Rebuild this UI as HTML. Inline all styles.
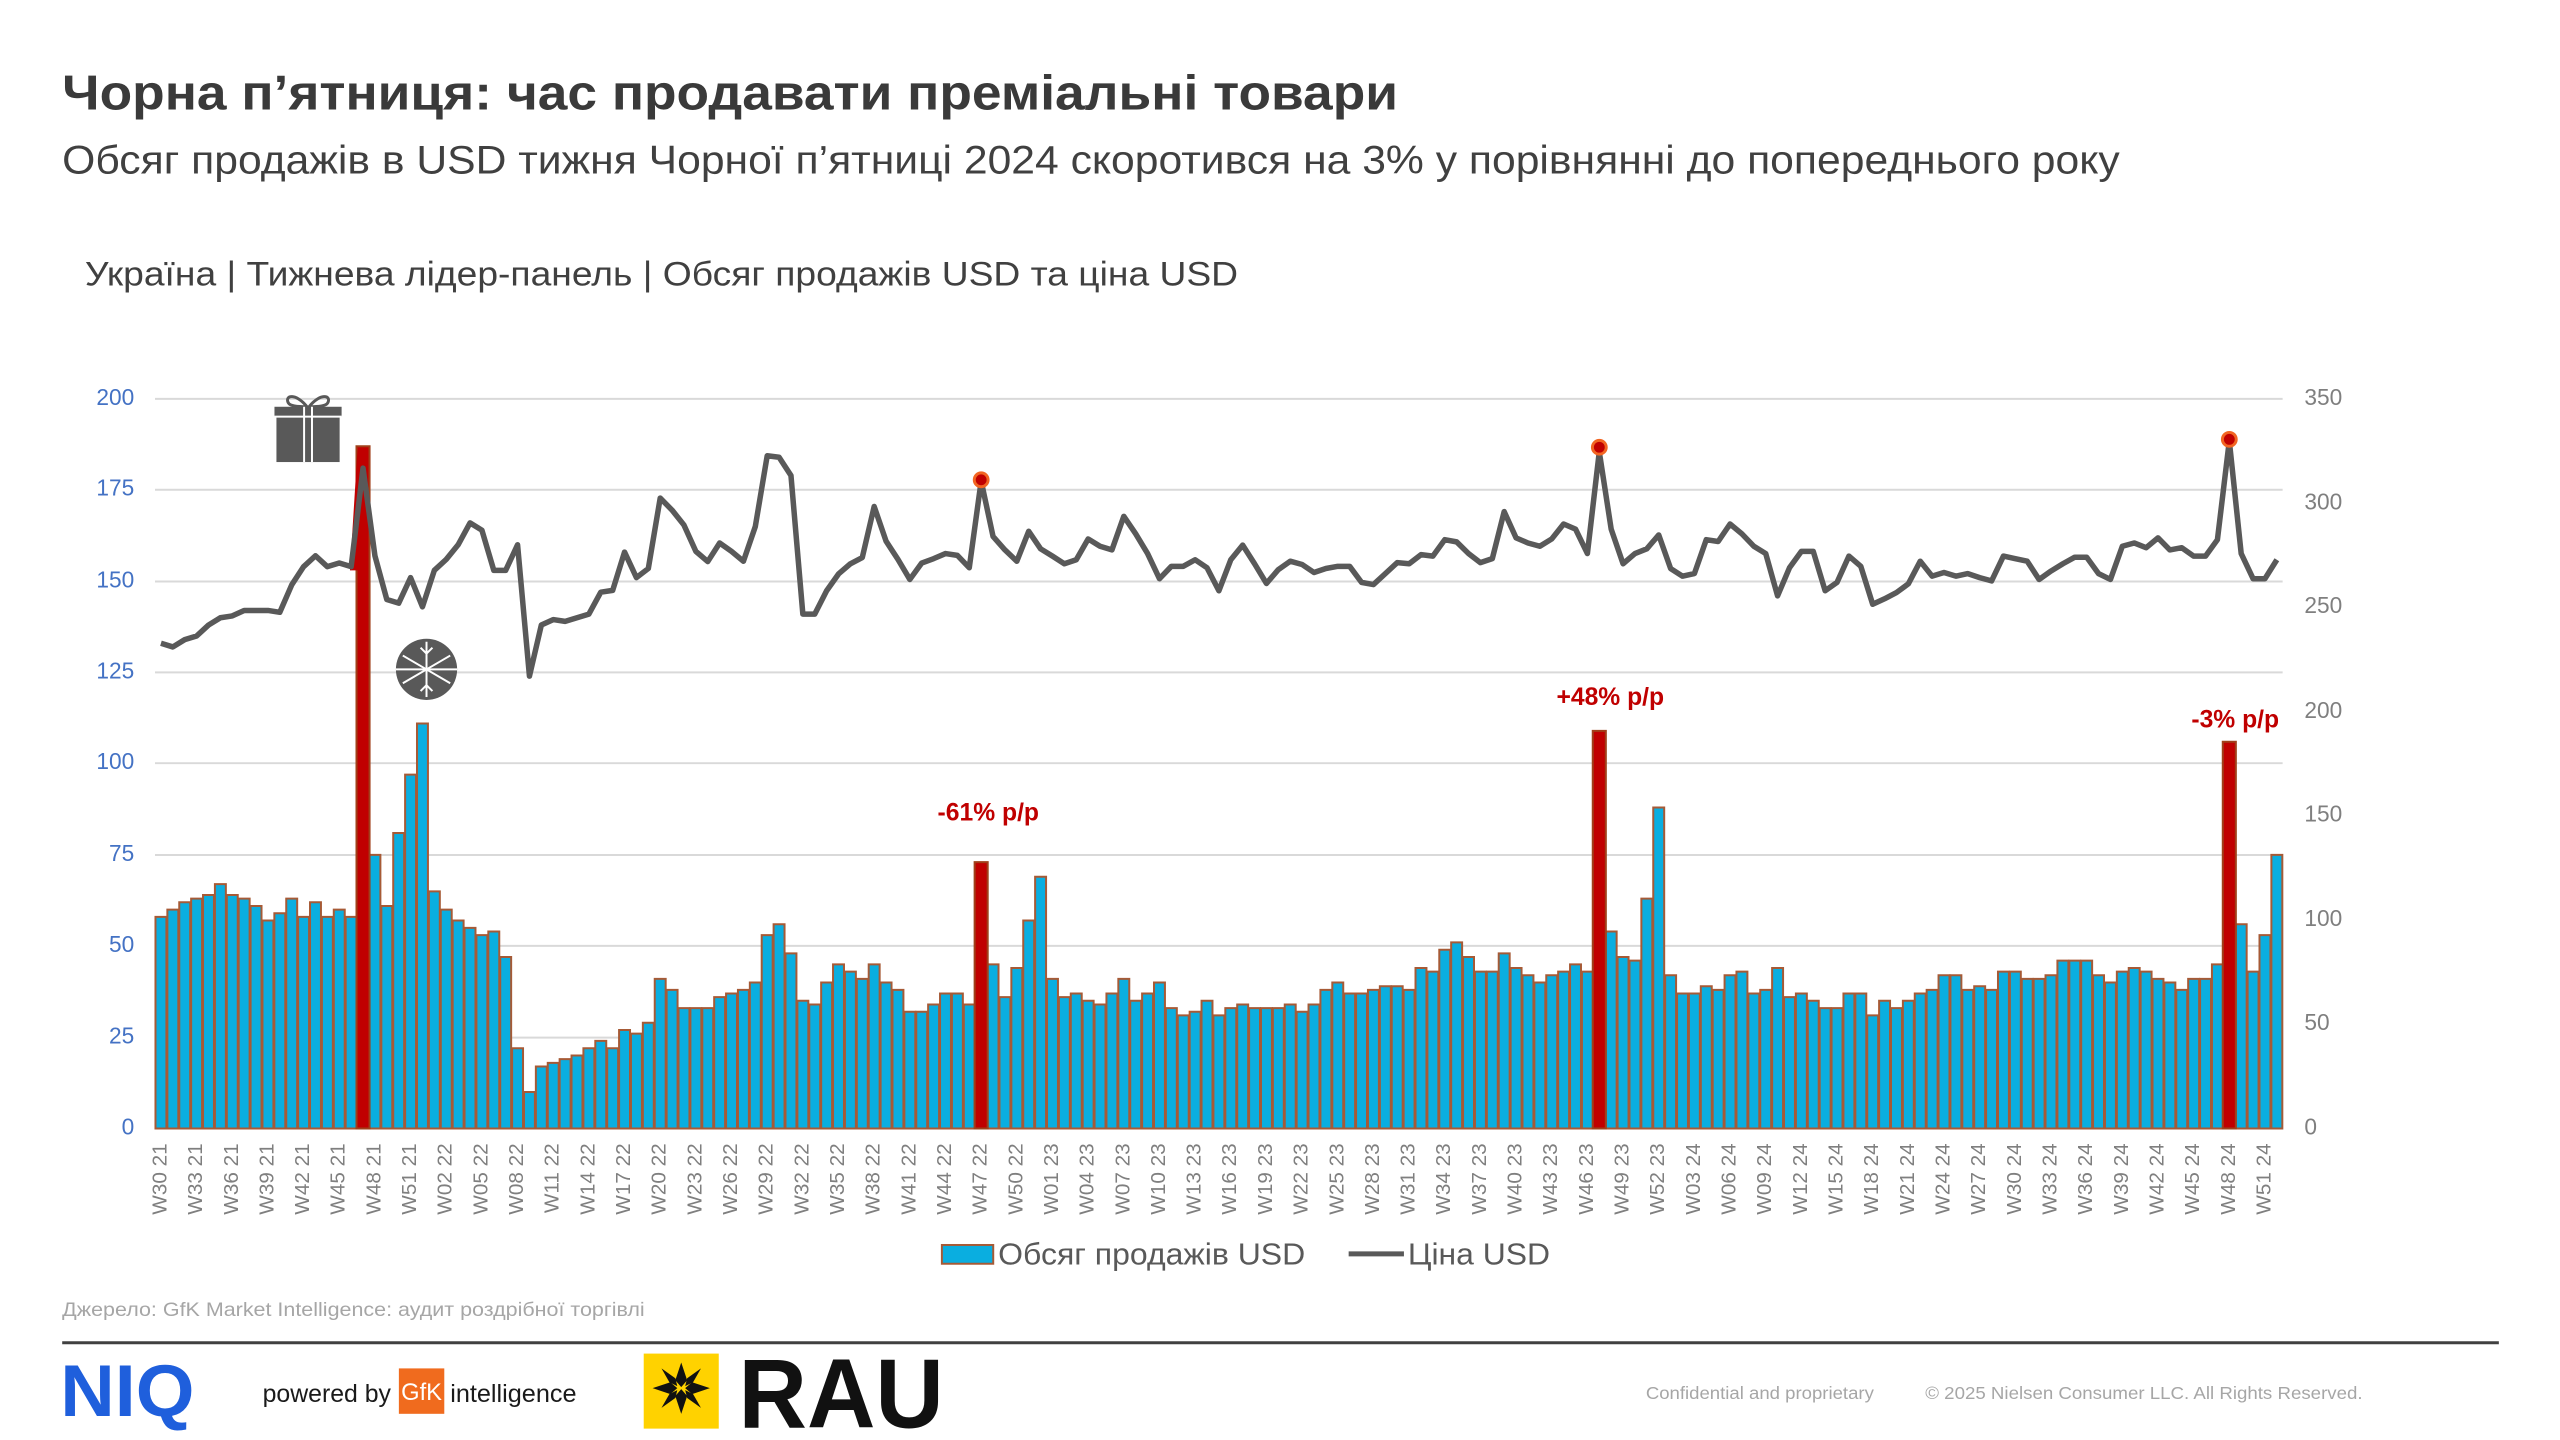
<!DOCTYPE html>
<html><head><meta charset="utf-8"><style>html,body{margin:0;padding:0;background:#fff}svg{display:block}</style></head>
<body>
<svg width="2560" height="1440" viewBox="0 0 2560 1440" xmlns="http://www.w3.org/2000/svg" font-family="'Liberation Sans', Arial, sans-serif">
<rect width="2560" height="1440" fill="#fff"/>
<g transform="scale(0.9873)">
<text x="63" y="111" font-size="50" font-weight="bold" fill="#3a3a3a" textLength="1353" lengthAdjust="spacingAndGlyphs">Чорна п’ятниця: час продавати преміальні товари</text>
<text x="63" y="176" font-size="40" fill="#404040" textLength="2084" lengthAdjust="spacingAndGlyphs">Обсяг продажів в USD тижня Чорної п’ятниці 2024 скоротився на 3% у порівнянні до попереднього року</text>
<text x="86" y="289" font-size="35" fill="#404040" textLength="1168" lengthAdjust="spacingAndGlyphs">Україна | Тижнева лідер-панель | Обсяг продажів USD та ціна USD</text>

<g stroke="#d9d9d9" stroke-width="2">
<line x1="157" x2="2312" y1="404" y2="404"/><line x1="157" x2="2312" y1="496" y2="496"/><line x1="157" x2="2312" y1="589" y2="589"/><line x1="157" x2="2312" y1="681" y2="681"/><line x1="157" x2="2312" y1="773" y2="773"/><line x1="157" x2="2312" y1="866" y2="866"/><line x1="157" x2="2312" y1="958" y2="958"/><line x1="157" x2="2312" y1="1051" y2="1051"/><line x1="157" x2="2312" y1="1143" y2="1143"/>
</g>
<g font-size="23" fill="#4472c4" text-anchor="end" dominant-baseline="middle">
<text x="136" y="404">200</text><text x="136" y="496">175</text><text x="136" y="589">150</text><text x="136" y="681">125</text><text x="136" y="773">100</text><text x="136" y="866">75</text><text x="136" y="958">50</text><text x="136" y="1051">25</text><text x="136" y="1143">0</text>
</g>
<g font-size="23" fill="#7f7f7f" dominant-baseline="middle">
<text x="2334" y="404">350</text><text x="2334" y="510">300</text><text x="2334" y="615">250</text><text x="2334" y="721">200</text><text x="2334" y="826">150</text><text x="2334" y="932">100</text><text x="2334" y="1037">50</text><text x="2334" y="1143">0</text>
</g>

<g transform="translate(157,1143) scale(12.04,-3.695)" fill="#0aaee0" stroke="#a65a36" stroke-width="2">
<g>
<rect vector-effect="non-scaling-stroke" x="0.04" width="0.92" height="58"/><rect vector-effect="non-scaling-stroke" x="1.04" width="0.92" height="60"/><rect vector-effect="non-scaling-stroke" x="2.04" width="0.92" height="62"/><rect vector-effect="non-scaling-stroke" x="3.04" width="0.92" height="63"/><rect vector-effect="non-scaling-stroke" x="4.04" width="0.92" height="64"/><rect vector-effect="non-scaling-stroke" x="5.04" width="0.92" height="67"/><rect vector-effect="non-scaling-stroke" x="6.04" width="0.92" height="64"/><rect vector-effect="non-scaling-stroke" x="7.04" width="0.92" height="63"/><rect vector-effect="non-scaling-stroke" x="8.04" width="0.92" height="61"/><rect vector-effect="non-scaling-stroke" x="9.04" width="0.92" height="57"/>
<rect vector-effect="non-scaling-stroke" x="10.04" width="0.92" height="59"/><rect vector-effect="non-scaling-stroke" x="11.04" width="0.92" height="63"/><rect vector-effect="non-scaling-stroke" x="12.04" width="0.92" height="58"/><rect vector-effect="non-scaling-stroke" x="13.04" width="0.92" height="62"/><rect vector-effect="non-scaling-stroke" x="14.04" width="0.92" height="58"/><rect vector-effect="non-scaling-stroke" x="15.04" width="0.92" height="60"/><rect vector-effect="non-scaling-stroke" x="16.04" width="0.92" height="58"/><rect vector-effect="non-scaling-stroke" x="18.04" width="0.92" height="75"/><rect vector-effect="non-scaling-stroke" x="19.04" width="0.92" height="61"/>
<rect vector-effect="non-scaling-stroke" x="20.04" width="0.92" height="81"/><rect vector-effect="non-scaling-stroke" x="21.04" width="0.92" height="97"/><rect vector-effect="non-scaling-stroke" x="22.04" width="0.92" height="111"/>
<rect vector-effect="non-scaling-stroke" x="23.04" width="0.92" height="65"/><rect vector-effect="non-scaling-stroke" x="24.04" width="0.92" height="60"/><rect vector-effect="non-scaling-stroke" x="25.04" width="0.92" height="57"/><rect vector-effect="non-scaling-stroke" x="26.04" width="0.92" height="55"/><rect vector-effect="non-scaling-stroke" x="27.04" width="0.92" height="53"/><rect vector-effect="non-scaling-stroke" x="28.04" width="0.92" height="54"/><rect vector-effect="non-scaling-stroke" x="29.04" width="0.92" height="47"/><rect vector-effect="non-scaling-stroke" x="30.04" width="0.92" height="22"/><rect vector-effect="non-scaling-stroke" x="31.04" width="0.92" height="10"/><rect vector-effect="non-scaling-stroke" x="32.04" width="0.92" height="17"/>
<rect vector-effect="non-scaling-stroke" x="33.04" width="0.92" height="18"/><rect vector-effect="non-scaling-stroke" x="34.04" width="0.92" height="19"/><rect vector-effect="non-scaling-stroke" x="35.04" width="0.92" height="20"/><rect vector-effect="non-scaling-stroke" x="36.04" width="0.92" height="22"/><rect vector-effect="non-scaling-stroke" x="37.04" width="0.92" height="24"/><rect vector-effect="non-scaling-stroke" x="38.04" width="0.92" height="22"/><rect vector-effect="non-scaling-stroke" x="39.04" width="0.92" height="27"/><rect vector-effect="non-scaling-stroke" x="40.04" width="0.92" height="26"/><rect vector-effect="non-scaling-stroke" x="41.04" width="0.92" height="29"/><rect vector-effect="non-scaling-stroke" x="42.04" width="0.92" height="41"/>
<rect vector-effect="non-scaling-stroke" x="43.04" width="0.92" height="38"/><rect vector-effect="non-scaling-stroke" x="44.04" width="0.92" height="33"/><rect vector-effect="non-scaling-stroke" x="45.04" width="0.92" height="33"/><rect vector-effect="non-scaling-stroke" x="46.04" width="0.92" height="33"/><rect vector-effect="non-scaling-stroke" x="47.04" width="0.92" height="36"/><rect vector-effect="non-scaling-stroke" x="48.04" width="0.92" height="37"/><rect vector-effect="non-scaling-stroke" x="49.04" width="0.92" height="38"/><rect vector-effect="non-scaling-stroke" x="50.04" width="0.92" height="40"/><rect vector-effect="non-scaling-stroke" x="51.04" width="0.92" height="53"/><rect vector-effect="non-scaling-stroke" x="52.04" width="0.92" height="56"/>
<rect vector-effect="non-scaling-stroke" x="53.04" width="0.92" height="48"/><rect vector-effect="non-scaling-stroke" x="54.04" width="0.92" height="35"/><rect vector-effect="non-scaling-stroke" x="55.04" width="0.92" height="34"/><rect vector-effect="non-scaling-stroke" x="56.04" width="0.92" height="40"/><rect vector-effect="non-scaling-stroke" x="57.04" width="0.92" height="45"/><rect vector-effect="non-scaling-stroke" x="58.04" width="0.92" height="43"/><rect vector-effect="non-scaling-stroke" x="59.04" width="0.92" height="41"/><rect vector-effect="non-scaling-stroke" x="60.04" width="0.92" height="45"/><rect vector-effect="non-scaling-stroke" x="61.04" width="0.92" height="40"/><rect vector-effect="non-scaling-stroke" x="62.04" width="0.92" height="38"/>
<rect vector-effect="non-scaling-stroke" x="63.04" width="0.92" height="32"/><rect vector-effect="non-scaling-stroke" x="64.04" width="0.92" height="32"/><rect vector-effect="non-scaling-stroke" x="65.04" width="0.92" height="34"/><rect vector-effect="non-scaling-stroke" x="66.04" width="0.92" height="37"/><rect vector-effect="non-scaling-stroke" x="67.04" width="0.92" height="37"/><rect vector-effect="non-scaling-stroke" x="68.04" width="0.92" height="34"/><rect vector-effect="non-scaling-stroke" x="70.04" width="0.92" height="45"/><rect vector-effect="non-scaling-stroke" x="71.04" width="0.92" height="36"/><rect vector-effect="non-scaling-stroke" x="72.04" width="0.92" height="44"/><rect vector-effect="non-scaling-stroke" x="73.04" width="0.92" height="57"/><rect vector-effect="non-scaling-stroke" x="74.04" width="0.92" height="69"/>
<rect vector-effect="non-scaling-stroke" x="75.04" width="0.92" height="41"/><rect vector-effect="non-scaling-stroke" x="76.04" width="0.92" height="36"/><rect vector-effect="non-scaling-stroke" x="77.04" width="0.92" height="37"/><rect vector-effect="non-scaling-stroke" x="78.04" width="0.92" height="35"/><rect vector-effect="non-scaling-stroke" x="79.04" width="0.92" height="34"/><rect vector-effect="non-scaling-stroke" x="80.04" width="0.92" height="37"/><rect vector-effect="non-scaling-stroke" x="81.04" width="0.92" height="41"/><rect vector-effect="non-scaling-stroke" x="82.04" width="0.92" height="35"/><rect vector-effect="non-scaling-stroke" x="83.04" width="0.92" height="37"/><rect vector-effect="non-scaling-stroke" x="84.04" width="0.92" height="40"/>
<rect vector-effect="non-scaling-stroke" x="85.04" width="0.92" height="33"/><rect vector-effect="non-scaling-stroke" x="86.04" width="0.92" height="31"/><rect vector-effect="non-scaling-stroke" x="87.04" width="0.92" height="32"/><rect vector-effect="non-scaling-stroke" x="88.04" width="0.92" height="35"/><rect vector-effect="non-scaling-stroke" x="89.04" width="0.92" height="31"/><rect vector-effect="non-scaling-stroke" x="90.04" width="0.92" height="33"/><rect vector-effect="non-scaling-stroke" x="91.04" width="0.92" height="34"/><rect vector-effect="non-scaling-stroke" x="92.04" width="0.92" height="33"/><rect vector-effect="non-scaling-stroke" x="93.04" width="0.92" height="33"/><rect vector-effect="non-scaling-stroke" x="94.04" width="0.92" height="33"/>
<rect vector-effect="non-scaling-stroke" x="95.04" width="0.92" height="34"/><rect vector-effect="non-scaling-stroke" x="96.04" width="0.92" height="32"/><rect vector-effect="non-scaling-stroke" x="97.04" width="0.92" height="34"/><rect vector-effect="non-scaling-stroke" x="98.04" width="0.92" height="38"/><rect vector-effect="non-scaling-stroke" x="99.04" width="0.92" height="40"/><rect vector-effect="non-scaling-stroke" x="100.04" width="0.92" height="37"/><rect vector-effect="non-scaling-stroke" x="101.04" width="0.92" height="37"/><rect vector-effect="non-scaling-stroke" x="102.04" width="0.92" height="38"/><rect vector-effect="non-scaling-stroke" x="103.04" width="0.92" height="39"/><rect vector-effect="non-scaling-stroke" x="104.04" width="0.92" height="39"/>
<rect vector-effect="non-scaling-stroke" x="105.04" width="0.92" height="38"/><rect vector-effect="non-scaling-stroke" x="106.04" width="0.92" height="44"/><rect vector-effect="non-scaling-stroke" x="107.04" width="0.92" height="43"/><rect vector-effect="non-scaling-stroke" x="108.04" width="0.92" height="49"/><rect vector-effect="non-scaling-stroke" x="109.04" width="0.92" height="51"/><rect vector-effect="non-scaling-stroke" x="110.04" width="0.92" height="47"/><rect vector-effect="non-scaling-stroke" x="111.04" width="0.92" height="43"/><rect vector-effect="non-scaling-stroke" x="112.04" width="0.92" height="43"/><rect vector-effect="non-scaling-stroke" x="113.04" width="0.92" height="48"/><rect vector-effect="non-scaling-stroke" x="114.04" width="0.92" height="44"/>
<rect vector-effect="non-scaling-stroke" x="115.04" width="0.92" height="42"/><rect vector-effect="non-scaling-stroke" x="116.04" width="0.92" height="40"/><rect vector-effect="non-scaling-stroke" x="117.04" width="0.92" height="42"/><rect vector-effect="non-scaling-stroke" x="118.04" width="0.92" height="43"/><rect vector-effect="non-scaling-stroke" x="119.04" width="0.92" height="45"/><rect vector-effect="non-scaling-stroke" x="120.04" width="0.92" height="43"/><rect vector-effect="non-scaling-stroke" x="122.04" width="0.92" height="54"/><rect vector-effect="non-scaling-stroke" x="123.04" width="0.92" height="47"/><rect vector-effect="non-scaling-stroke" x="124.04" width="0.92" height="46"/><rect vector-effect="non-scaling-stroke" x="125.04" width="0.92" height="63"/><rect vector-effect="non-scaling-stroke" x="126.04" width="0.92" height="88"/>
<rect vector-effect="non-scaling-stroke" x="127.04" width="0.92" height="42"/><rect vector-effect="non-scaling-stroke" x="128.04" width="0.92" height="37"/><rect vector-effect="non-scaling-stroke" x="129.04" width="0.92" height="37"/><rect vector-effect="non-scaling-stroke" x="130.04" width="0.92" height="39"/><rect vector-effect="non-scaling-stroke" x="131.04" width="0.92" height="38"/><rect vector-effect="non-scaling-stroke" x="132.04" width="0.92" height="42"/><rect vector-effect="non-scaling-stroke" x="133.04" width="0.92" height="43"/><rect vector-effect="non-scaling-stroke" x="134.04" width="0.92" height="37"/><rect vector-effect="non-scaling-stroke" x="135.04" width="0.92" height="38"/><rect vector-effect="non-scaling-stroke" x="136.04" width="0.92" height="44"/>
<rect vector-effect="non-scaling-stroke" x="137.04" width="0.92" height="36"/><rect vector-effect="non-scaling-stroke" x="138.04" width="0.92" height="37"/><rect vector-effect="non-scaling-stroke" x="139.04" width="0.92" height="35"/><rect vector-effect="non-scaling-stroke" x="140.04" width="0.92" height="33"/><rect vector-effect="non-scaling-stroke" x="141.04" width="0.92" height="33"/><rect vector-effect="non-scaling-stroke" x="142.04" width="0.92" height="37"/><rect vector-effect="non-scaling-stroke" x="143.04" width="0.92" height="37"/><rect vector-effect="non-scaling-stroke" x="144.04" width="0.92" height="31"/><rect vector-effect="non-scaling-stroke" x="145.04" width="0.92" height="35"/><rect vector-effect="non-scaling-stroke" x="146.04" width="0.92" height="33"/>
<rect vector-effect="non-scaling-stroke" x="147.04" width="0.92" height="35"/><rect vector-effect="non-scaling-stroke" x="148.04" width="0.92" height="37"/><rect vector-effect="non-scaling-stroke" x="149.04" width="0.92" height="38"/><rect vector-effect="non-scaling-stroke" x="150.04" width="0.92" height="42"/><rect vector-effect="non-scaling-stroke" x="151.04" width="0.92" height="42"/><rect vector-effect="non-scaling-stroke" x="152.04" width="0.92" height="38"/><rect vector-effect="non-scaling-stroke" x="153.04" width="0.92" height="39"/><rect vector-effect="non-scaling-stroke" x="154.04" width="0.92" height="38"/><rect vector-effect="non-scaling-stroke" x="155.04" width="0.92" height="43"/><rect vector-effect="non-scaling-stroke" x="156.04" width="0.92" height="43"/>
<rect vector-effect="non-scaling-stroke" x="157.04" width="0.92" height="41"/><rect vector-effect="non-scaling-stroke" x="158.04" width="0.92" height="41"/><rect vector-effect="non-scaling-stroke" x="159.04" width="0.92" height="42"/><rect vector-effect="non-scaling-stroke" x="160.04" width="0.92" height="46"/><rect vector-effect="non-scaling-stroke" x="161.04" width="0.92" height="46"/><rect vector-effect="non-scaling-stroke" x="162.04" width="0.92" height="46"/><rect vector-effect="non-scaling-stroke" x="163.04" width="0.92" height="42"/><rect vector-effect="non-scaling-stroke" x="164.04" width="0.92" height="40"/><rect vector-effect="non-scaling-stroke" x="165.04" width="0.92" height="43"/><rect vector-effect="non-scaling-stroke" x="166.04" width="0.92" height="44"/>
<rect vector-effect="non-scaling-stroke" x="167.04" width="0.92" height="43"/><rect vector-effect="non-scaling-stroke" x="168.04" width="0.92" height="41"/><rect vector-effect="non-scaling-stroke" x="169.04" width="0.92" height="40"/><rect vector-effect="non-scaling-stroke" x="170.04" width="0.92" height="38"/><rect vector-effect="non-scaling-stroke" x="171.04" width="0.92" height="41"/><rect vector-effect="non-scaling-stroke" x="172.04" width="0.92" height="41"/><rect vector-effect="non-scaling-stroke" x="173.04" width="0.92" height="45"/><rect vector-effect="non-scaling-stroke" x="175.04" width="0.92" height="56"/><rect vector-effect="non-scaling-stroke" x="176.04" width="0.92" height="43"/><rect vector-effect="non-scaling-stroke" x="177.04" width="0.92" height="53"/><rect vector-effect="non-scaling-stroke" x="178.04" width="0.92" height="75"/>
</g>
<g fill="#c00000" stroke="#a0401a">
<rect vector-effect="non-scaling-stroke" x="16.95" width="1.1" height="187"/>
<rect vector-effect="non-scaling-stroke" x="68.95" width="1.1" height="73"/>
<rect vector-effect="non-scaling-stroke" x="120.95" width="1.1" height="109"/>
<rect vector-effect="non-scaling-stroke" x="173.95" width="1.1" height="106"/>
</g>
<polygon points="16.4,153 17.05,187 17.5,182 17.5,153" fill="#c00000" stroke="none"/>
<polyline vector-effect="non-scaling-stroke" fill="none" stroke="#595959" stroke-width="5.5" stroke-linejoin="round" points="0.5,133 1.5,132 2.5,134 3.5,135 4.5,138 5.5,140 6.5,140.5 7.5,142 8.5,142 9.5,142 10.5,141.5 11.5,149 12.5,154 13.5,157 14.5,154 15.5,155 16.5,154 17.5,181 18.5,157 19.5,145 20.5,144 21.5,151 22.5,143 23.5,153 24.5,156 25.5,160 26.5,166 27.5,164 28.5,153 29.5,153 30.5,160 31.5,124 32.5,138 33.5,139.5 34.5,139 35.5,140 36.5,141 37.5,147 38.5,147.5 39.5,158 40.5,151 41.5,153.5 42.5,172.8 43.5,169.5 44.5,165.4 45.5,158.2 46.5,155.4 47.5,160.5 48.5,158.2 49.5,155.5 50.5,165 51.5,184.4 52.5,184 53.5,179 54.5,141 55.5,141 56.5,147.4 57.5,152 58.5,154.8 59.5,156.5 60.5,170.5 61.5,161 62.5,156 63.5,150.5 64.5,155 65.5,156.2 66.5,157.6 67.5,157.1 68.5,153.7 69.5,177.5 70.5,162.3 71.5,158.6 72.5,155.5 73.5,163.7 74.5,158.9 75.5,156.9 76.5,154.8 77.5,155.9 78.5,161.6 79.5,159.6 80.5,158.6 81.5,167.8 82.5,163 83.5,157.6 84.5,150.7 85.5,154.1 86.5,154.1 87.5,155.9 88.5,153.7 89.5,147.4 90.5,155.9 91.5,159.9 92.5,154.8 93.5,149.4 94.5,153.2 95.5,155.5 96.5,154.6 97.5,152.4 98.5,153.5 99.5,154.1 100.5,154.1 101.5,149.7 102.5,149.1 103.5,152.1 104.5,155.1 105.5,154.8 106.5,157.3 107.5,156.9 108.5,161.4 109.5,160.8 110.5,157.6 111.5,155.1 112.5,156.2 113.5,169.1 114.5,161.9 115.5,160.5 116.5,159.6 117.5,161.6 118.5,165.7 119.5,164.3 120.5,157.6 121.5,185.5 122.5,164.3 123.5,154.8 124.5,157.6 125.5,158.9 126.5,162.7 127.5,153.5 128.5,151.4 129.5,152.1 130.5,161.4 131.5,160.9 132.5,165.7 133.5,163 134.5,159.6 135.5,157.6 136.5,146 137.5,153.7 138.5,158.2 139.5,158.2 140.5,147.4 141.5,149.7 142.5,156.9 143.5,154.1 144.5,143.7 145.5,145.2 146.5,146.9 147.5,149.3 148.5,155.5 149.5,151.4 150.5,152.4 151.5,151.4 152.5,152.1 153.5,151 154.5,150.1 155.5,156.9 156.5,156.2 157.5,155.5 158.5,150.5 159.5,152.8 160.5,154.8 161.5,156.6 162.5,156.6 163.5,152.1 164.5,150.5 165.5,159.6 166.5,160.5 167.5,159.2 168.5,161.9 169.5,158.6 170.5,159.2 171.5,156.9 172.5,156.9 173.5,161.4 174.5,188.5 175.5,157.6 176.5,150.7 177.5,150.7 178.5,155.9"/>
</g>

<g fill="#c00000" stroke="#f26522" stroke-width="3">
<circle cx="993.8" cy="486" r="7"/><circle cx="1619.9" cy="453" r="7"/><circle cx="2258" cy="445" r="7"/>
</g>

<g font-size="25" font-weight="bold" fill="#c00000" text-anchor="middle">
<text x="1001" y="831">-61% p/p</text>
<text x="1631" y="714">+48% p/p</text>
<text x="2264" y="737">-3% p/p</text>
</g>

<g fill="#595959">
<rect x="280" y="418" width="64" height="50"/>
<rect x="278" y="412" width="68" height="10"/>
<path d="M311 412 C300 398 288 400 292 408 C294 412 304 412 311 412 Z M313 412 C324 398 336 400 332 408 C330 412 320 412 313 412 Z" fill="none" stroke="#595959" stroke-width="3"/>
<rect x="307" y="412" width="2" height="56" fill="#fff"/><rect x="315" y="412" width="2" height="56" fill="#fff"/>
<rect x="278" y="421" width="68" height="2" fill="#fff"/>
</g>
<g>
<circle cx="432" cy="678" r="31" fill="#595959"/>
<g stroke="#fff" stroke-width="2">
<line x1="432" y1="650" x2="432" y2="706"/><line x1="408" y1="664" x2="456" y2="692"/><line x1="408" y1="692" x2="456" y2="664"/><line x1="401" y1="678" x2="463" y2="678"/>
<polyline points="426,656 432,662 438,656" fill="none"/><polyline points="426,700 432,694 438,700" fill="none"/>
</g>
</g>

<g font-size="21" fill="#7f7f7f" text-anchor="end" dominant-baseline="middle">
<text transform="translate(163.0,1158) rotate(-90)">W30 21</text>
<text transform="translate(199.1,1158) rotate(-90)">W33 21</text>
<text transform="translate(235.3,1158) rotate(-90)">W36 21</text>
<text transform="translate(271.4,1158) rotate(-90)">W39 21</text>
<text transform="translate(307.5,1158) rotate(-90)">W42 21</text>
<text transform="translate(343.6,1158) rotate(-90)">W45 21</text>
<text transform="translate(379.7,1158) rotate(-90)">W48 21</text>
<text transform="translate(415.9,1158) rotate(-90)">W51 21</text>
<text transform="translate(452.0,1158) rotate(-90)">W02 22</text>
<text transform="translate(488.1,1158) rotate(-90)">W05 22</text>
<text transform="translate(524.2,1158) rotate(-90)">W08 22</text>
<text transform="translate(560.3,1158) rotate(-90)">W11 22</text>
<text transform="translate(596.5,1158) rotate(-90)">W14 22</text>
<text transform="translate(632.6,1158) rotate(-90)">W17 22</text>
<text transform="translate(668.7,1158) rotate(-90)">W20 22</text>
<text transform="translate(704.8,1158) rotate(-90)">W23 22</text>
<text transform="translate(740.9,1158) rotate(-90)">W26 22</text>
<text transform="translate(777.1,1158) rotate(-90)">W29 22</text>
<text transform="translate(813.2,1158) rotate(-90)">W32 22</text>
<text transform="translate(849.3,1158) rotate(-90)">W35 22</text>
<text transform="translate(885.4,1158) rotate(-90)">W38 22</text>
<text transform="translate(921.5,1158) rotate(-90)">W41 22</text>
<text transform="translate(957.7,1158) rotate(-90)">W44 22</text>
<text transform="translate(993.8,1158) rotate(-90)">W47 22</text>
<text transform="translate(1029.9,1158) rotate(-90)">W50 22</text>
<text transform="translate(1066.0,1158) rotate(-90)">W01 23</text>
<text transform="translate(1102.1,1158) rotate(-90)">W04 23</text>
<text transform="translate(1138.3,1158) rotate(-90)">W07 23</text>
<text transform="translate(1174.4,1158) rotate(-90)">W10 23</text>
<text transform="translate(1210.5,1158) rotate(-90)">W13 23</text>
<text transform="translate(1246.6,1158) rotate(-90)">W16 23</text>
<text transform="translate(1282.7,1158) rotate(-90)">W19 23</text>
<text transform="translate(1318.9,1158) rotate(-90)">W22 23</text>
<text transform="translate(1355.0,1158) rotate(-90)">W25 23</text>
<text transform="translate(1391.1,1158) rotate(-90)">W28 23</text>
<text transform="translate(1427.2,1158) rotate(-90)">W31 23</text>
<text transform="translate(1463.3,1158) rotate(-90)">W34 23</text>
<text transform="translate(1499.5,1158) rotate(-90)">W37 23</text>
<text transform="translate(1535.6,1158) rotate(-90)">W40 23</text>
<text transform="translate(1571.7,1158) rotate(-90)">W43 23</text>
<text transform="translate(1607.8,1158) rotate(-90)">W46 23</text>
<text transform="translate(1643.9,1158) rotate(-90)">W49 23</text>
<text transform="translate(1680.1,1158) rotate(-90)">W52 23</text>
<text transform="translate(1716.2,1158) rotate(-90)">W03 24</text>
<text transform="translate(1752.3,1158) rotate(-90)">W06 24</text>
<text transform="translate(1788.4,1158) rotate(-90)">W09 24</text>
<text transform="translate(1824.5,1158) rotate(-90)">W12 24</text>
<text transform="translate(1860.7,1158) rotate(-90)">W15 24</text>
<text transform="translate(1896.8,1158) rotate(-90)">W18 24</text>
<text transform="translate(1932.9,1158) rotate(-90)">W21 24</text>
<text transform="translate(1969.0,1158) rotate(-90)">W24 24</text>
<text transform="translate(2005.1,1158) rotate(-90)">W27 24</text>
<text transform="translate(2041.3,1158) rotate(-90)">W30 24</text>
<text transform="translate(2077.4,1158) rotate(-90)">W33 24</text>
<text transform="translate(2113.5,1158) rotate(-90)">W36 24</text>
<text transform="translate(2149.6,1158) rotate(-90)">W39 24</text>
<text transform="translate(2185.7,1158) rotate(-90)">W42 24</text>
<text transform="translate(2221.9,1158) rotate(-90)">W45 24</text>
<text transform="translate(2258.0,1158) rotate(-90)">W48 24</text>
<text transform="translate(2294.1,1158) rotate(-90)">W51 24</text>
</g>

<rect x="954" y="1261" width="52" height="19" fill="#0aaee0" stroke="#a65a36" stroke-width="2"/>
<text x="1011" y="1281" font-size="31" fill="#595959" textLength="311" lengthAdjust="spacingAndGlyphs">Обсяг продажів USD</text>
<line x1="1366" y1="1270" x2="1422" y2="1270" stroke="#595959" stroke-width="5"/>
<text x="1426" y="1281" font-size="31" fill="#595959" textLength="144" lengthAdjust="spacingAndGlyphs">Ціна USD</text>

<text x="63" y="1333" font-size="20" fill="#a6a6a6" textLength="590" lengthAdjust="spacingAndGlyphs">Джерело: GfK Market Intelligence: аудит роздрібної торгівлі</text>
<line x1="63" y1="1360" x2="2531" y2="1360" stroke="#404040" stroke-width="3"/>

<text x="61" y="1434" font-size="74" font-weight="bold" fill="#1f5fdc" textLength="136" lengthAdjust="spacingAndGlyphs">NIQ</text>
<text x="266" y="1420" font-size="25" fill="#1a1a1a" textLength="130" lengthAdjust="spacingAndGlyphs">powered by</text>
<rect x="404" y="1386" width="46" height="46" fill="#f06b1e"/>
<text x="427" y="1418" font-size="24" fill="#fff" text-anchor="middle">GfK</text>
<text x="456" y="1420" font-size="25" fill="#1a1a1a" textLength="128" lengthAdjust="spacingAndGlyphs">intelligence</text>
<rect x="652" y="1371" width="76" height="76" fill="#ffd200"/>
<g fill="#111">
<polygon points="690,1380 696,1398 690,1405 684,1398"/>
<polygon points="690,1432 696,1414 690,1407 684,1414"/>
<polygon points="661,1406 679,1400 686,1406 679,1412"/>
<polygon points="719,1406 701,1400 694,1406 701,1412"/>
<polygon points="670,1386 684,1396 686,1404 678,1400"/>
<polygon points="710,1386 696,1396 694,1404 702,1400"/>
<polygon points="670,1426 684,1416 686,1408 678,1412"/>
<polygon points="710,1426 696,1416 694,1408 702,1412"/>
</g>
<text x="748" y="1446" font-size="100" font-weight="bold" fill="#111" textLength="208" lengthAdjust="spacingAndGlyphs">RAU</text>
<text x="1667" y="1417" font-size="18" fill="#a6a6a6" textLength="231" lengthAdjust="spacingAndGlyphs">Confidential and proprietary</text>
<text x="1950" y="1417" font-size="18" fill="#a6a6a6" textLength="443" lengthAdjust="spacingAndGlyphs">© 2025 Nielsen Consumer LLC. All Rights Reserved.</text>
</g>
</svg>
</body></html>
